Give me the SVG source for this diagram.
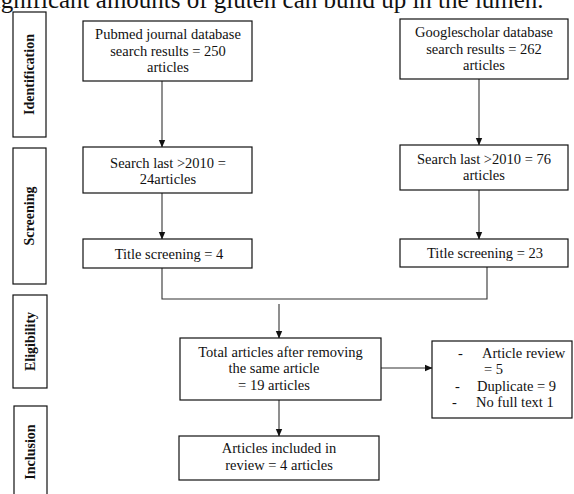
<svg xmlns="http://www.w3.org/2000/svg" width="574" height="494" viewBox="0 0 574 494">
<defs>
<marker id="ah" markerWidth="8" markerHeight="8" refX="7" refY="4" orient="auto" markerUnits="userSpaceOnUse">
<path d="M0,0.8 L7.5,4 L0,7.2 Z" fill="#111"/>
</marker>
<style>
.box{fill:#fff;stroke:#111;stroke-width:1.2}
.t{font-family:"Liberation Serif","Times New Roman",serif;font-size:14.5px;fill:#111;text-anchor:middle}
.tl{font-family:"Liberation Serif","Times New Roman",serif;font-size:14.5px;fill:#111}
.lab{font-family:"Liberation Serif","Times New Roman",serif;font-size:14px;font-weight:bold;fill:#111;text-anchor:middle}
.ln{fill:none;stroke:#333;stroke-width:1.1}
.ar{fill:none;stroke:#333;stroke-width:1.1;marker-end:url(#ah)}
</style>
</defs>
<rect width="574" height="494" fill="#fff"/>
<text x="-16" y="8" font-family="Liberation Serif, Times New Roman, serif" font-size="25" fill="#111">significant amounts of gluten can build up in the lumen.</text>

<g id="label-identification">
<rect class="box" x="13" y="12" width="33" height="125"/>
<text class="lab" transform="translate(34,74.5) rotate(-90)">Identification</text>
</g>
<g id="label-screening">
<rect class="box" x="13" y="148" width="33" height="136"/>
<text class="lab" transform="translate(34,216) rotate(-90)">Screening</text>
</g>
<g id="label-eligibility">
<rect class="box" x="13" y="295" width="34" height="93"/>
<text class="lab" transform="translate(34.5,341.5) rotate(-90)">Eligibility</text>
</g>
<g id="label-inclusion">
<rect class="box" x="14" y="406" width="33" height="92"/>
<text class="lab" transform="translate(35,452) rotate(-90)">Inclusion</text>
</g>

<g id="connectors">
<line class="ar" x1="162" y1="81" x2="162" y2="147"/>
<line class="ar" x1="479" y1="79" x2="479" y2="145"/>
<line class="ar" x1="162" y1="193" x2="162" y2="239"/>
<line class="ar" x1="479" y1="190" x2="479" y2="239"/>
<polyline class="ln" points="162,268 162,299 487,299 487,267"/>
<line class="ar" x1="279" y1="304" x2="279" y2="338"/>
<line class="ar" x1="381" y1="368" x2="432" y2="368"/>
<line class="ar" x1="279" y1="400" x2="279" y2="436"/>
</g>

<g id="pubmed">
<rect class="box" x="83" y="21" width="169" height="60"/>
<text class="t" x="168" y="39">Pubmed journal database</text>
<text class="t" x="168" y="56">search results = 250</text>
<text class="t" x="168" y="72">articles</text>
</g>
<g id="googlescholar">
<rect class="box" x="400" y="19" width="168" height="60"/>
<text class="t" x="484" y="37">Googlescholar database</text>
<text class="t" x="484" y="54">search results = 262</text>
<text class="t" x="484" y="70">articles</text>
</g>
<g id="search-left">
<rect class="box" x="83" y="147" width="169" height="46"/>
<text class="t" x="168" y="168">Search last &gt;2010 =</text>
<text class="t" x="168" y="184">24articles</text>
</g>
<g id="search-right">
<rect class="box" x="400" y="145" width="168" height="45"/>
<text class="t" x="484" y="164">Search last &gt;2010 = 76</text>
<text class="t" x="484" y="180">articles</text>
</g>
<g id="title-left">
<rect class="box" x="83" y="239" width="169" height="29"/>
<text class="t" x="169" y="259">Title screening = 4</text>
</g>
<g id="title-right">
<rect class="box" x="400" y="239" width="168" height="28"/>
<text class="t" x="485" y="258">Title screening = 23</text>
</g>
<g id="total">
<rect class="box" x="180" y="338" width="201" height="62"/>
<text class="t" x="280.5" y="357">Total articles after removing</text>
<text class="t" x="274" y="373">the same article</text>
<text class="t" x="274" y="390">= 19 articles</text>
</g>
<g id="excluded">
<rect class="box" x="432" y="341" width="140" height="77"/>
<text class="tl" x="458" y="358">-</text>
<text class="tl" x="482" y="358">Article review</text>
<text class="tl" x="484" y="374">= 5</text>
<text class="tl" x="455" y="391">-</text>
<text class="tl" x="477" y="391">Duplicate = 9</text>
<text class="tl" x="452" y="407">-</text>
<text class="tl" x="476" y="407">No full text 1</text>
</g>
<g id="included">
<rect class="box" x="179" y="436" width="200" height="44"/>
<text class="t" x="279" y="453">Articles included in</text>
<text class="t" x="279" y="470">review = 4 articles</text>
</g>
</svg>
